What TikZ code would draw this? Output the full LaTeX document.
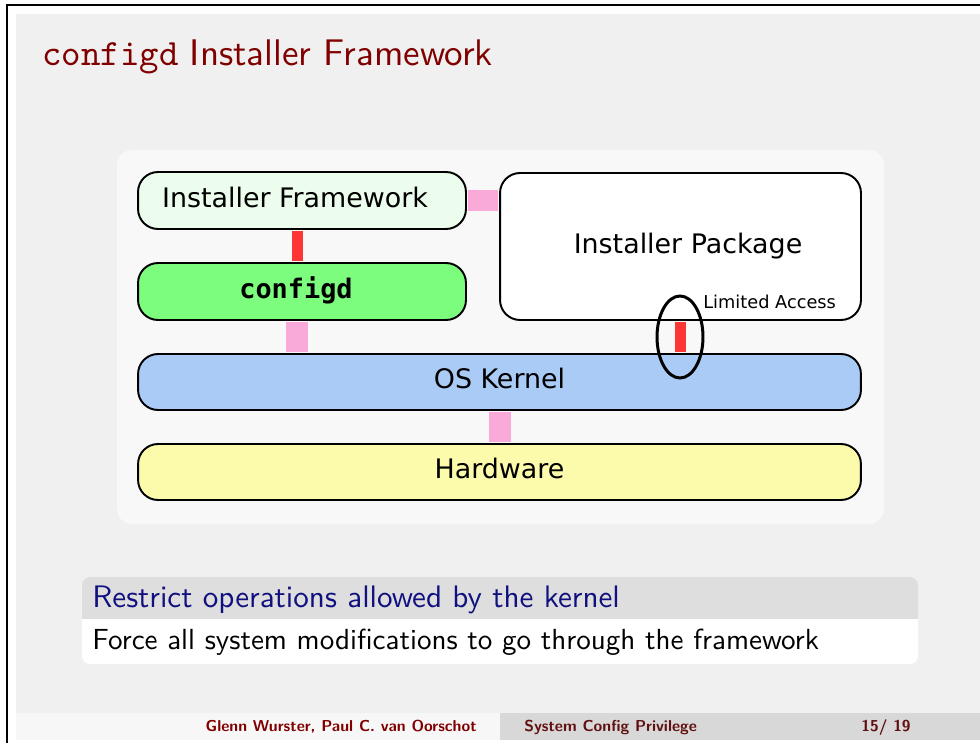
\documentclass[tikz,border=0pt]{standalone}
\usepackage{fontspec}
\setsansfont{lmsans10-regular.otf}[BoldFont=lmsans10-bold.otf]
\setmonofont{lmmono10-regular.otf}
\newfontfamily\dejavu{DejaVu Sans}
\newfontfamily\dejavumono{DejaVu Sans Mono}
\usetikzlibrary{shapes.geometric,positioning,calc}
\definecolor{slidegray}{HTML}{F0F0F0}
\definecolor{panelgray}{HTML}{F8F8F8}
\definecolor{titlered}{HTML}{800000}
\definecolor{footred}{HTML}{601010}
\definecolor{linkpink}{HTML}{F9AAD8}
\definecolor{linkred}{HTML}{FC3535}
\definecolor{fwgreen}{HTML}{EDFDED}
\definecolor{cfggreen}{HTML}{7DFD7D}
\definecolor{kernblue}{HTML}{ABCBF7}
\definecolor{hwyellow}{HTML}{FBFBAB}
\definecolor{blockgray}{HTML}{DEDEDE}
\definecolor{blocktext}{HTML}{10107F}
\definecolor{footgray}{HTML}{D8D8D8}
\definecolor{footlight}{HTML}{F7F7F7}

\begin{document}
\begin{tikzpicture}[x=0.02cm, y=-0.02cm,
    layer/.style={draw, rounded corners=0.4cm, line width=1.1pt, inner sep=0pt, text height=0.4cm, text depth=0.13cm, font=\dejavu\fontsize{15.3}{18}\selectfont},
    pinklink/.style={linkpink, line width=0.44cm, shorten <=0.55pt, shorten >=0.55pt},
    redlink/.style={linkred, line width=0.22cm, shorten <=0.55pt, shorten >=0.55pt},
    slidetext/.style={anchor=base west, inner sep=0pt, font=\sffamily\fontsize{16.55}{20}\selectfont},
    foot/.style={inner sep=0pt, font=\sffamily\bfseries\fontsize{9}{11}\selectfont}
]
\useasboundingbox (0,0) rectangle (980,743);
\fill[white] (0,0) rectangle (980,743);
\fill[slidegray] (16,14) rectangle (980,713);
\fill[footlight] (16,713) rectangle (500,740);
\fill[footgray] (500,713) rectangle (980,740);
\draw[line width=0.8pt] (980,5) -- (7,5) -- (7,743);

\node[anchor=base west, inner sep=0pt, text=titlered, font=\fontsize{21.1}{25}\selectfont] (title) at (42,66) {\texttt{configd} \sffamily Installer Framework};

\fill[panelgray, rounded corners=0.3cm] (117,150) rectangle (884,524);

\node[layer, fill=fwgreen, minimum width=6.56cm, minimum height=1.14cm] (fw) at (302,200.5) {Installer Framework\hspace*{0.28cm}};
\node[layer, fill=cfggreen, minimum width=6.56cm, minimum height=1.14cm, font=\dejavumono\bfseries\fontsize{15.3}{18}\selectfont] (cfg) at (302,291.5) {configd\hspace*{0.24cm}};
\node[layer, fill=white, minimum width=7.22cm, minimum height=2.94cm] (pkg) at (680.5,246.5) {\hspace{0.3cm}Installer Package};
\node[layer, fill=kernblue, minimum width=14.46cm, minimum height=1.12cm] (kern) at (499.5,382) {OS Kernel};
\node[layer, fill=hwyellow, minimum width=14.46cm, minimum height=1.12cm] (hw) at (499.5,472) {Hardware};

\draw[pinklink] (fw.east) -- (fw.east -| pkg.west);
\draw[redlink] ([xshift=-0.09cm]fw.south) -- ([xshift=-0.09cm]cfg.north);
\draw[pinklink] ([xshift=-0.1cm]cfg.south) -- ([xshift=-0.1cm]cfg.south |- kern.north);
\draw[redlink] (pkg.south) -- (pkg.south |- kern.north);
\draw[pinklink] (kern.south) -- (hw.north);

\node[draw, ellipse, line width=1.7pt, inner sep=0pt, minimum width=0.92cm, minimum height=1.64cm] (ring) at (680,337) {};
\node[anchor=base west, inner sep=0pt, font=\dejavu\fontsize{10.1}{12}\selectfont] (lim) at (703,308) {Limited Access};

\fill[white, rounded corners=0.16cm] (82,577) rectangle (918,664);
\begin{scope}
\clip (82,577) rectangle (918,618);
\fill[blockgray, rounded corners=0.16cm] (82,577) rectangle (918,640);
\end{scope}
\node[slidetext, text=blocktext, font=\sffamily\fontsize{17.7}{20}\selectfont] (bhead) at (92,607) {Restrict operations allowed by the kernel};
\node[slidetext] (bbody) at (92,649) {Force all system modifications to go through the framework};

\node[foot, anchor=base east, text=titlered] (author) at (477,731) {Glenn Wurster, Paul C. van Oorschot};
\node[foot, anchor=base west, text=footred] (short) at (524,731) {System Config Privilege};
\node[foot, anchor=base east, text=footred] (page) at (911,731) {15/ 19};
\end{tikzpicture}
\end{document}
